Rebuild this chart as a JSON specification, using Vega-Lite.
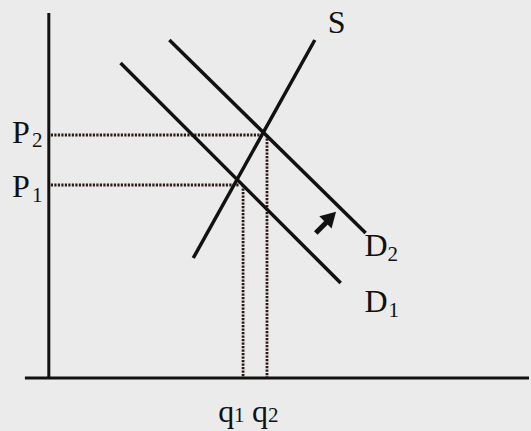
{
  "$schema": "https://vega.github.io/schema/vega-lite/v6.json",
  "width": 531,
  "height": 431,
  "autosize": {"type": "fit", "contains": "padding"},
  "padding": 0,
  "background": "#ebebeb",
  "config": {"view": {"stroke": null}},
  "datasets": {
    "axes": [
      {"name": "price axis", "x": 49, "y": 418, "x2": 49, "y2": 52},
      {"name": "quantity axis", "x": 25, "y": 53, "x2": 531, "y2": 53}
    ],
    "curves": [
      {"name": "S", "x": 194, "y": 173, "x2": 316, "y2": 391},
      {"name": "D2", "x": 170, "y": 391, "x2": 367, "y2": 198},
      {"name": "D1", "x": 121, "y": 368, "x2": 342, "y2": 148}
    ],
    "guides": [
      {"name": "P2", "x": 51, "y": 296, "x2": 265, "y2": 296},
      {"name": "P1", "x": 51, "y": 246, "x2": 240, "y2": 246},
      {"name": "q1", "x": 244, "y": 246, "x2": 244, "y2": 54},
      {"name": "q2", "x": 268, "y": 296, "x2": 268, "y2": 54}
    ],
    "arrow": [
      {"name": "shift", "x": 317, "y": 198, "x2": 329, "y2": 210}
    ],
    "arrowhead": [
      {"name": "shift", "x": 332, "y": 214}
    ],
    "labels": [
      {"text": "P", "x": 12, "y": 288},
      {"text": "P", "x": 12, "y": 234},
      {"text": "S", "x": 329, "y": 398},
      {"text": "D", "x": 366, "y": 175},
      {"text": "D", "x": 366, "y": 119},
      {"text": "q", "x": 219, "y": 9},
      {"text": "q", "x": 253, "y": 9}
    ],
    "subs": [
      {"text": "2", "x": 32, "y": 284},
      {"text": "1", "x": 32, "y": 229},
      {"text": "2", "x": 389, "y": 170},
      {"text": "1", "x": 390, "y": 114},
      {"text": "1", "x": 235, "y": 9},
      {"text": "2", "x": 269, "y": 9}
    ]
  },
  "layer": [
    {
      "data": {"name": "guides"},
      "mark": {"type": "rule", "color": "#2e1a17", "strokeWidth": 2.8, "strokeDash": [2.2, 1.3]},
      "encoding": {
        "x": {"field": "x", "type": "quantitative", "scale": {"domain": [0, 531], "nice": false, "zero": false}, "axis": null},
        "y": {"field": "y", "type": "quantitative", "scale": {"domain": [0, 431], "nice": false, "zero": false}, "axis": null},
        "x2": {"field": "x2"},
        "y2": {"field": "y2"}
      }
    },
    {
      "data": {"name": "axes"},
      "mark": {"type": "rule", "color": "#111111", "strokeWidth": 3},
      "encoding": {
        "x": {"field": "x", "type": "quantitative", "axis": null},
        "y": {"field": "y", "type": "quantitative", "axis": null},
        "x2": {"field": "x2"},
        "y2": {"field": "y2"}
      }
    },
    {
      "data": {"name": "curves"},
      "mark": {"type": "rule", "color": "#111111", "strokeWidth": 3.5},
      "encoding": {
        "x": {"field": "x", "type": "quantitative", "axis": null},
        "y": {"field": "y", "type": "quantitative", "axis": null},
        "x2": {"field": "x2"},
        "y2": {"field": "y2"}
      }
    },
    {
      "data": {"name": "arrow"},
      "mark": {"type": "rule", "color": "#111111", "strokeWidth": 5},
      "encoding": {
        "x": {"field": "x", "type": "quantitative", "axis": null},
        "y": {"field": "y", "type": "quantitative", "axis": null},
        "x2": {"field": "x2"},
        "y2": {"field": "y2"}
      }
    },
    {
      "data": {"name": "arrowhead"},
      "mark": {"type": "point", "shape": "triangle-up", "angle": 45, "filled": true, "color": "#111111", "opacity": 1, "size": 300},
      "encoding": {
        "x": {"field": "x", "type": "quantitative", "axis": null},
        "y": {"field": "y", "type": "quantitative", "axis": null}
      }
    },
    {
      "data": {"name": "labels"},
      "mark": {"type": "text", "font": "Liberation Serif", "fontSize": 32, "align": "left", "baseline": "alphabetic", "color": "#111111"},
      "encoding": {
        "x": {"field": "x", "type": "quantitative", "axis": null},
        "y": {"field": "y", "type": "quantitative", "axis": null},
        "text": {"field": "text"}
      }
    },
    {
      "data": {"name": "subs"},
      "mark": {"type": "text", "font": "Liberation Serif", "fontSize": 21, "align": "left", "baseline": "alphabetic", "color": "#111111"},
      "encoding": {
        "x": {"field": "x", "type": "quantitative", "axis": null},
        "y": {"field": "y", "type": "quantitative", "axis": null},
        "text": {"field": "text"}
      }
    }
  ]
}
